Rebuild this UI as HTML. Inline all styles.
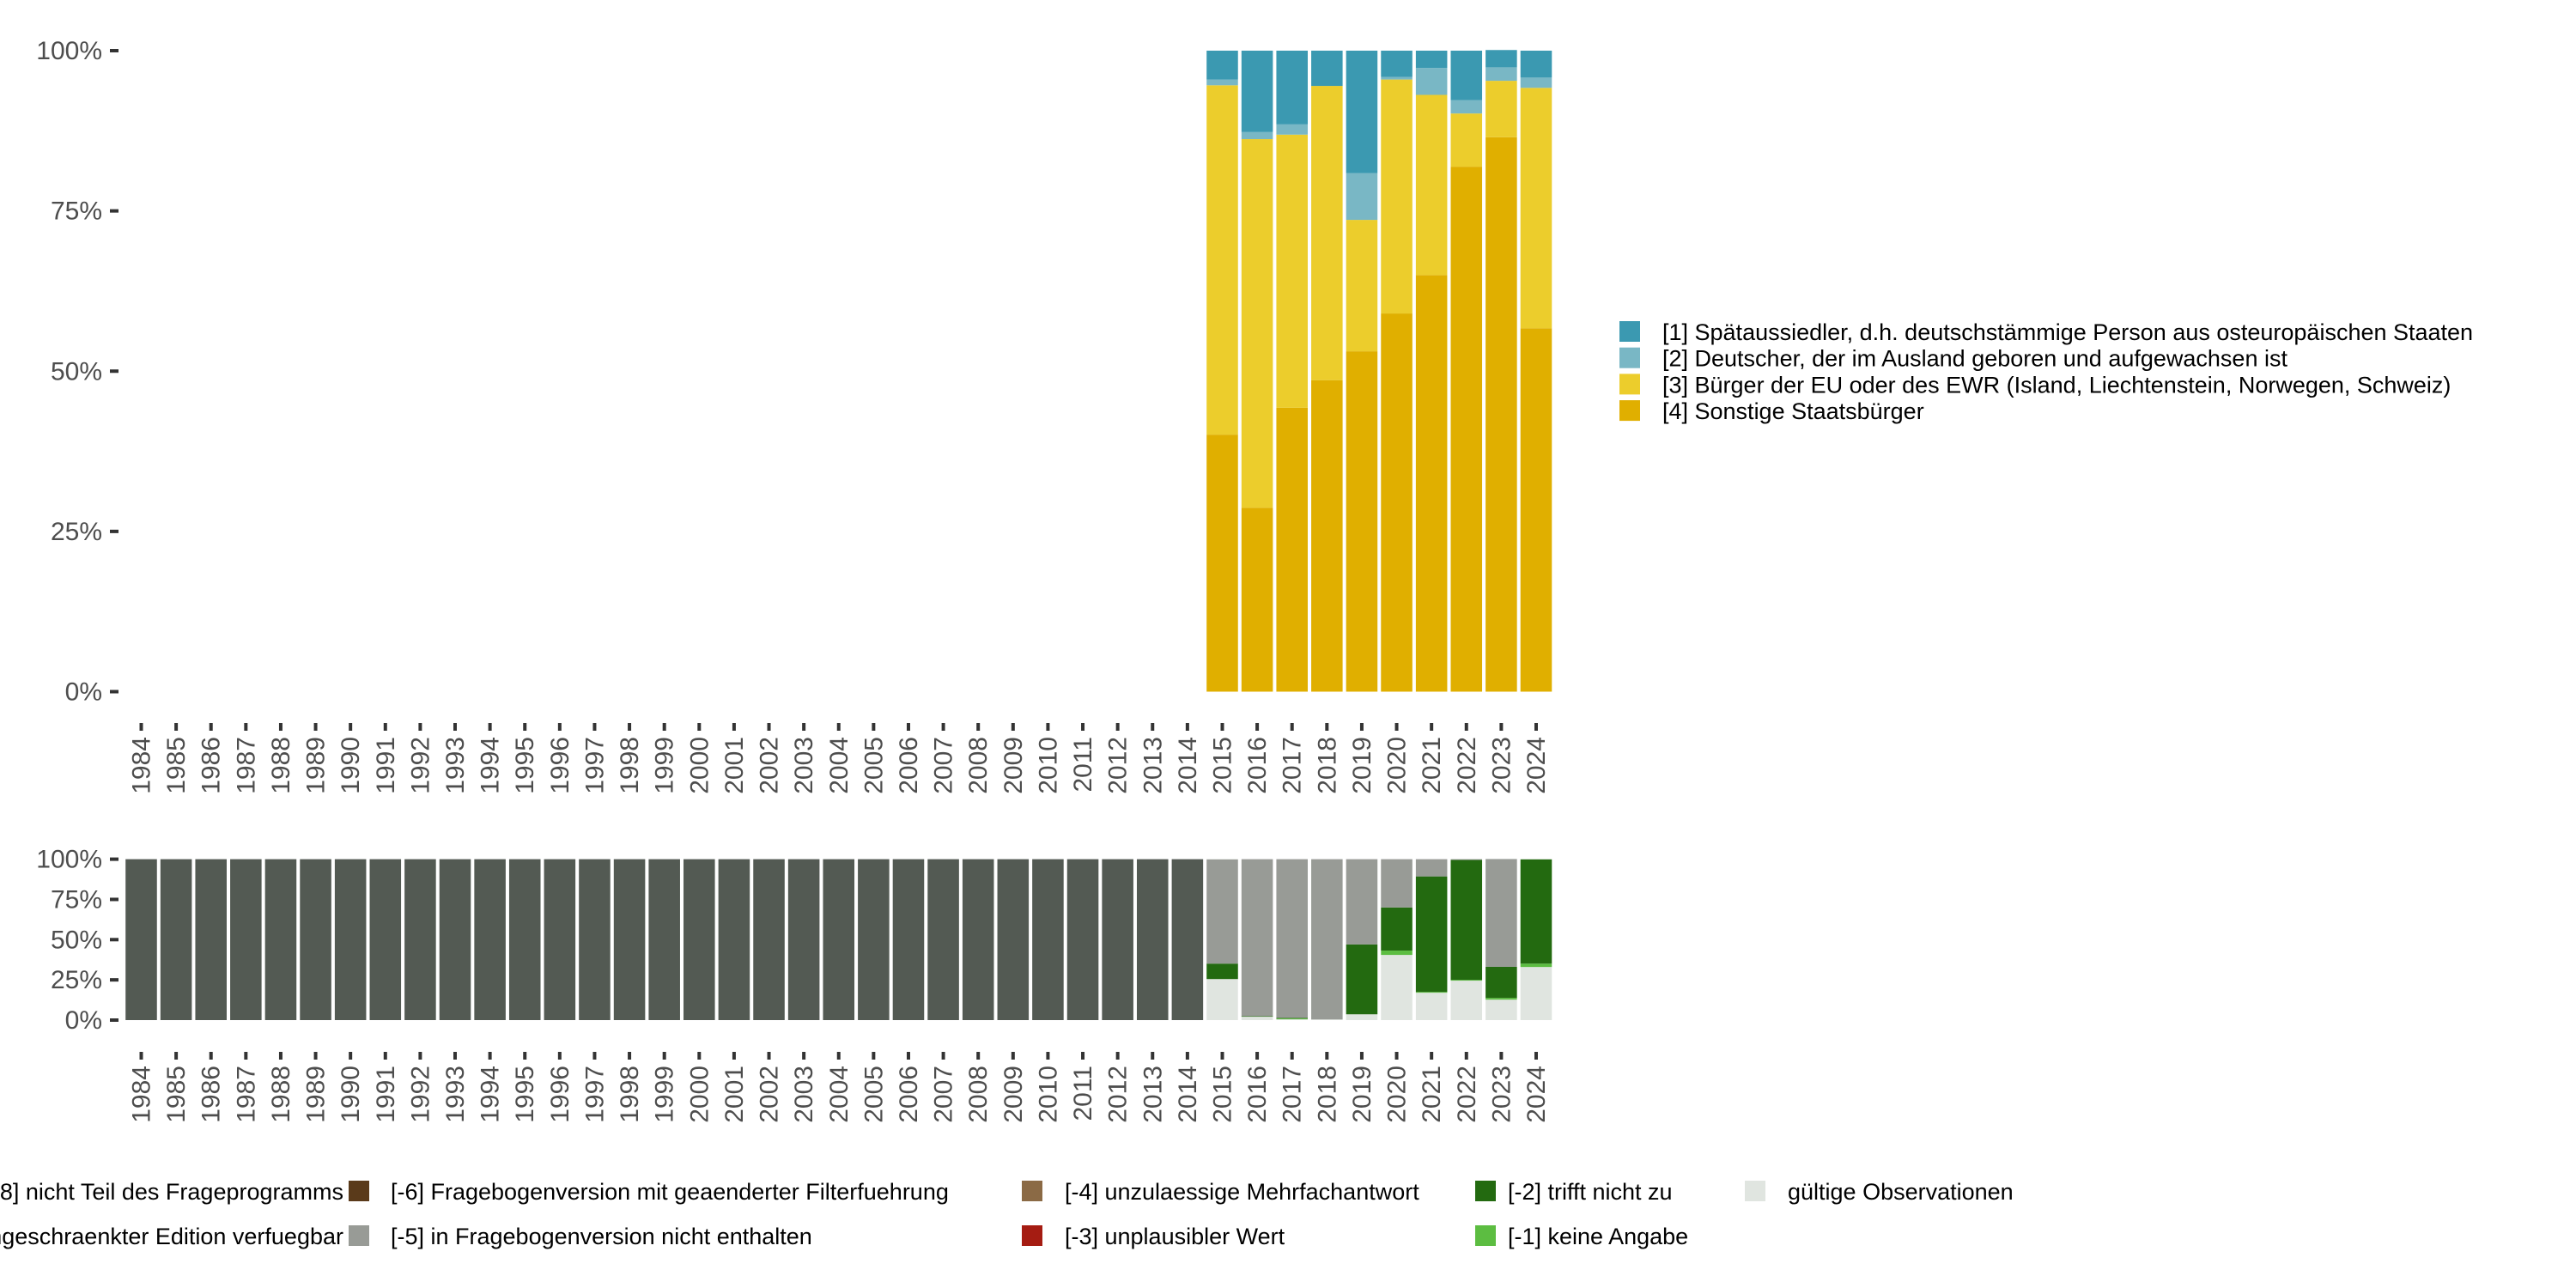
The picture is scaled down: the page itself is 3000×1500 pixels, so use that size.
<!DOCTYPE html>
<html><head><meta charset="utf-8"><style>
html,body{margin:0;padding:0;background:#fff;}
svg{display:block;font-family:"Liberation Sans","DejaVu Sans",sans-serif;}
</style></head><body>
<svg id="chart" width="3000" height="1500" viewBox="0 0 3000 1500" xmlns="http://www.w3.org/2000/svg">
<g id="top"></g>
<g id="bottom"></g>
<g id="legendTop"></g>
<g id="legendBottom"></g>
</svg>
<script>
const years = [];
for (let y = 1984; y <= 2024; y++) years.push(String(y));
const topYears = ["2015","2016","2017","2018","2019","2020","2021","2022","2023","2024"];
const s1 = [4.5,12.7,11.5,5.5,19.1,4.1,2.7,7.7,2.7,4.2];
const s2 = [0.9,1.1,1.6,0.0,7.3,0.4,4.2,2.1,2.1,1.6];
const s3 = [54.5,57.5,42.6,45.9,20.5,36.5,28.1,8.3,8.8,37.5];
const s4 = [40.1,28.7,44.3,48.6,53.1,59.0,65.0,81.9,86.5,56.7];
const topLabels = ["[1] Spätaussiedler, d.h. deutschstämmige Person aus osteuropäischen Staaten","[2] Deutscher, der im Ausland geboren und aufgewachsen ist","[3] Bürger der EU oder des EWR (Island, Liechtenstein, Norwegen, Schweiz)","[4] Sonstige Staatsbürger"];
const yTicks = [0,25,50,75,100];
const yTickLabels = ["0%","25%","50%","75%","100%"];
// bottom panel: shares per year 1984..2024
const bNotPart = years.map(y => +y <= 2014 ? 100 : 0);
const bNotInVersion = [64.8,97.5,98.6,99.6,53.0,30.0,10.7,0.5,67.0,0.0];
const bNo = [9.6,0.4,0.4,0.0,43.4,26.8,71.8,74.5,19.3,64.8];
const bNoAnswer = [0.0,0.0,0.5,0.0,0.0,2.7,0.5,0.5,1.1,2.1];
const bValid = [25.5,2.1,0.5,0.4,3.6,40.5,17.0,24.5,12.7,33.0];

const NS = "http://www.w3.org/2000/svg";
function mk(parent, tag, attrs, text){const e=document.createElementNS(NS,tag);for(const k in attrs)e.setAttribute(k,attrs[k]);if(text!==undefined)e.textContent=text;parent.appendChild(e);return e;}
const step = (1789-164.5)/40;
function xc(i){return 164.5 + i*step;}
const bw = step*0.9;
const txt = "#4d4d4d";

function panel(g, y0, y1, nameP){
  const ys = v => y0 + (y1-y0)*v/100;
  yTicks.forEach((t,i)=>{
    const l = mk(g,"line",{x1:128,x2:138,y1:ys(t),y2:ys(t),stroke:"#333","stroke-width":4});
    
    
    const tx = mk(g,"text",{x:119,y:ys(t)+10,"text-anchor":"end","font-size":30,fill:txt},yTickLabels[i]);
    
    
  });
  return ys;
}
function xAxis(g, tickY, nameP){
  years.forEach((yr,i)=>{
    const l = mk(g,"line",{x1:xc(i),x2:xc(i),y1:tickY,y2:tickY+9,stroke:"#333","stroke-width":4});
    
    
    const t = mk(g,"text",{x:0,y:0,"text-anchor":"end","font-size":30,fill:txt,transform:`translate(${xc(i)+10},${tickY+16}) rotate(-90)`},yr);
    
    
  });
}
function stack(g, ys, i, parts, nameP){
  let acc = 0;
  parts.forEach(p=>{
    if(p.v<=0)return;
    const yb = ys(acc), yt = ys(acc+p.v);
    const r = mk(g,"rect",{x:xc(i)-bw/2,y:yt,width:bw,height:yb-yt,fill:p.c});
    
    
    acc += p.v;
  });
}
const cTop = ["#3b99b1","#79b7c5","#eccd2c","#e0af00"];
const gt = document.getElementById("top");
const ysT = panel(gt, 805.5, 59, "top");
xAxis(gt, 842, "top");
topYears.forEach((yr,k)=>{
  const i = years.indexOf(yr);
  stack(gt, ysT, i, [{v:s4[k],c:cTop[3],n:"s4"},{v:s3[k],c:cTop[2],n:"s3"},{v:s2[k],c:cTop[1],n:"s2"},{v:s1[k],c:cTop[0],n:"s1"}], "top");
});
const gb = document.getElementById("bottom");
const ysB = panel(gb, 1188, 1000.6, "bottom");
xAxis(gb, 1225, "bottom");
const cB = {np:"#535a53",nv:"#989b96",no:"#236a10",na:"#5cbd41",va:"#e0e5e0"};
years.forEach((yr,i)=>{
  const k = topYears.indexOf(yr);
  const parts = k<0 ? [{v:bNotPart[i],c:cB.np,n:"not-part"}] :
    [{v:bValid[k],c:cB.va,n:"valid"},{v:bNoAnswer[k],c:cB.na,n:"no-answer"},{v:bNo[k],c:cB.no,n:"no"},{v:bNotInVersion[k],c:cB.nv,n:"not-in-version"}];
  stack(gb, ysB, i, parts, "bottom");
});
// top legend
const lt = document.getElementById("legendTop");
topLabels.forEach((lab,i)=>{
  const y = 386 + i*30.7;
  const r = mk(lt,"rect",{x:1886,y:y-12,width:24,height:24,fill:cTop[i]});
  
  
  const t = mk(lt,"text",{x:1936,y:y+10,"font-size":27,fill:"#000"},lab);
  
  
});
// bottom legend
const lb = document.getElementById("legendBottom");
const bl = [
  {x:null,tx:400,y:1387,c:cB.np,t:"[-8] nicht Teil des Frageprogramms",end:true},
  {x:null,tx:400,y:1439,c:"#888",t:"[-7] nur in eingeschraenkter Edition verfuegbar",end:true},
  {x:406,tx:455,y:1387,c:"#5a3a1a",t:"[-6] Fragebogenversion mit geaenderter Filterfuehrung"},
  {x:406,tx:455,y:1439,c:cB.nv,t:"[-5] in Fragebogenversion nicht enthalten"},
  {x:1190,tx:1240,y:1387,c:"#8b6a45",t:"[-4] unzulaessige Mehrfachantwort"},
  {x:1190,tx:1240,y:1439,c:"#a51c12",t:"[-3] unplausibler Wert"},
  {x:1718,tx:1756,y:1387,c:cB.no,t:"[-2] trifft nicht zu"},
  {x:1718,tx:1756,y:1439,c:cB.na,t:"[-1] keine Angabe"},
  {x:2032,tx:2082,y:1387,c:cB.va,t:"gültige Observationen"}
];
bl.forEach((b,i)=>{
  if(b.x!==null){
    const r = mk(lb,"rect",{x:b.x,y:b.y-12,width:24,height:24,fill:b.c});
    
    
  }
  const t = mk(lb,"text",{x:b.tx,y:b.y+10,"font-size":27,fill:"#000","text-anchor":b.end?"end":"start"},b.t);
  
  
});
</script>
</body></html>
